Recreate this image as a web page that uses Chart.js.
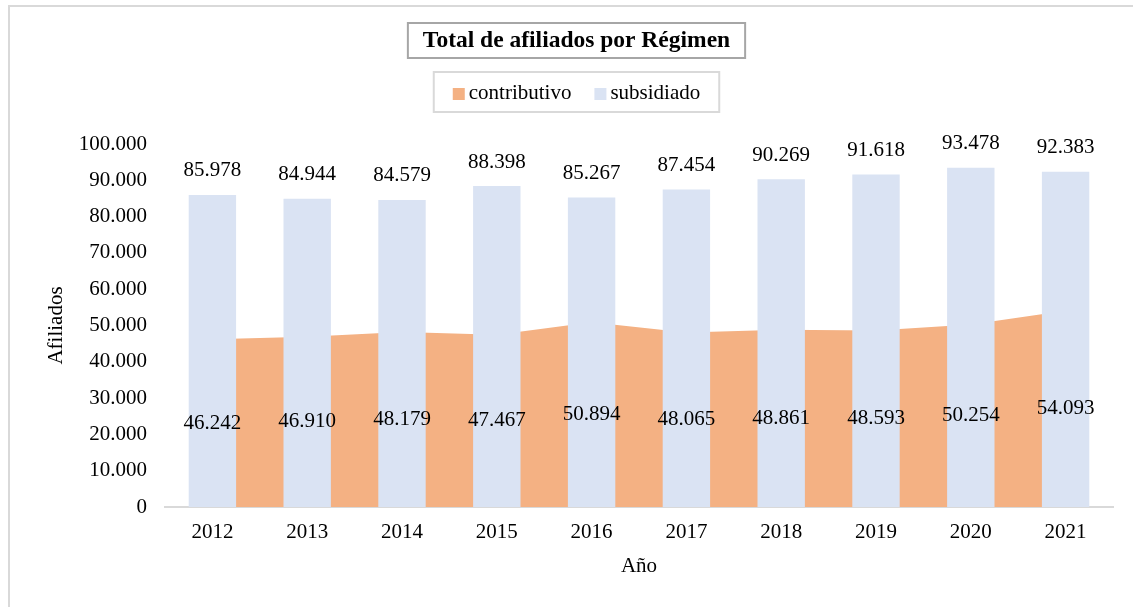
<!DOCTYPE html>
<html>
<head>
<meta charset="utf-8">
<script src="https://cdn.jsdelivr.net/npm/chart.js@4.4.1/dist/chart.umd.min.js"></script>
<style>
  html, body { margin: 0; padding: 0; background: #fff; }
  #wrap { width: 1133px; height: 607px; position: relative; }
</style>
</head>
<body>
<div id="wrap"><canvas id="c" width="1133" height="607"></canvas></div>
<script>
const categories = ['2012','2013','2014','2015','2016','2017','2018','2019','2020','2021'];
const contributivo = [46242, 46910, 48179, 47467, 50894, 48065, 48861, 48593, 50254, 54093];
const subsidiado = [85978, 84944, 84579, 88398, 85267, 87454, 90269, 91618, 93478, 92383];
const yTicks = [0, 10000, 20000, 30000, 40000, 50000, 60000, 70000, 80000, 90000, 100000];
const titleText = 'Total de afiliados por Régimen';
const seriesNames = ['contributivo', 'subsidiado'];
const axisTitles = { x: 'Año', y: 'Afiliados' };

const ORANGE = '#F4B183';
const BLUE = '#DAE3F3';
const FONT = '"Liberation Serif", "Times New Roman", serif';

function fmt(v) {
  return String(Math.round(v)).replace(/\B(?=(\d{3})+(?!\d))/g, '.');
}

const decorPlugin = {
  id: 'decor',
  beforeDraw(chart) {
    const ctx = chart.ctx;
    ctx.save();
    ctx.strokeStyle = '#d9d9d9';
    ctx.lineWidth = 2;
    ctx.strokeRect(9, 6, chart.width + 40, chart.height + 40);
    ctx.restore();
  },
  afterDraw(chart) {
    const ctx = chart.ctx;
    const pad = chart.options.layout.padding;
    const cx = (pad.left + chart.width - pad.right) / 2;
    ctx.save();
    // Title
    ctx.font = 'bold 23.5px ' + FONT;
    ctx.fillStyle = '#000';
    ctx.textAlign = 'center';
    ctx.textBaseline = 'middle';
    const tw = ctx.measureText(titleText).width;
    ctx.fillText(titleText, cx, 41);
    ctx.strokeStyle = '#a6a6a6';
    ctx.lineWidth = 2;
    ctx.strokeRect(cx - tw / 2 - 15, 23, tw + 30, 35);
    // Legend
    ctx.font = '21px ' + FONT;
    const colors = [ORANGE, BLUE];
    const box = 12, gapBox = 4, gapItem = 23;
    const widths = seriesNames.map(n => ctx.measureText(n).width);
    let total = 0;
    widths.forEach((w, i) => { total += box + gapBox + w + (i ? gapItem : 0); });
    const lw = total + 38;
    ctx.strokeStyle = '#d9d9d9';
    ctx.lineWidth = 2;
    ctx.strokeRect(cx - lw / 2, 72, lw, 40);
    let x = cx - total / 2;
    ctx.textAlign = 'left';
    seriesNames.forEach((n, i) => {
      ctx.fillStyle = colors[i];
      ctx.fillRect(x, 88, box, box);
      x += box + gapBox;
      ctx.fillStyle = '#000';
      ctx.fillText(n, x, 93);
      x += widths[i] + gapItem;
    });
    ctx.restore();
  },
  afterDatasetsDraw(chart) {
    const ctx = chart.ctx;
    const xs = chart.scales.x, ys = chart.scales.y;
    ctx.save();
    ctx.font = '21px ' + FONT;
    ctx.fillStyle = '#000';
    ctx.textAlign = 'center';
    ctx.textBaseline = 'middle';
    categories.forEach((c, i) => {
      const px = xs.getPixelForValue(i);
      ctx.fillText(fmt(subsidiado[i]), px, ys.getPixelForValue(subsidiado[i]) - 24);
      ctx.fillText(fmt(contributivo[i]), px, ys.getPixelForValue(contributivo[i] / 2));
    });
    ctx.restore();
  }
};

new Chart(document.getElementById('c'), {
  data: {
    labels: categories,
    datasets: [
      {
        type: 'bar',
        label: seriesNames[1],
        data: subsidiado,
        backgroundColor: BLUE,
        borderWidth: 0,
        grouped: false,
        categoryPercentage: 1,
        barPercentage: 0.5,
        order: 0
      },
      {
        type: 'line',
        label: seriesNames[0],
        data: contributivo,
        backgroundColor: ORANGE,
        borderColor: ORANGE,
        borderWidth: 0,
        pointRadius: 0,
        tension: 0,
        fill: 'origin',
        order: 1
      }
    ]
  },
  options: {
    responsive: false,
    animation: false,
    layout: { padding: { left: 40, right: 20, top: 144, bottom: 28 } },
    plugins: {
      legend: { display: false },
      title: { display: false },
      tooltip: { enabled: false }
    },
    scales: {
      x: {
        type: 'category',
        offset: true,
        grid: { display: false, drawTicks: false },
        border: { display: true, color: '#d9d9d9', width: 2 },
        ticks: { font: { family: FONT, size: 21 }, color: '#000', padding: 13, maxRotation: 0 },
        title: { display: true, text: axisTitles.x, font: { family: FONT, size: 21 }, color: '#000', padding: { top: 0, bottom: 0 } },
        afterFit(s) { s.height = 72; }
      },
      y: {
        min: 0,
        max: 100000,
        afterBuildTicks(s) { s.ticks = yTicks.map(v => ({ value: v })); },
        grid: { display: false, drawTicks: false },
        border: { display: false },
        ticks: { font: { family: FONT, size: 21 }, color: '#000', padding: 18, callback: v => fmt(v) },
        title: { display: true, text: axisTitles.y, font: { family: FONT, size: 21 }, color: '#000', padding: { top: 4, bottom: 4 } },
        afterFit(s) { s.width = 125; }
      }
    }
  },
  plugins: [decorPlugin]
});
</script>
</body>
</html>
